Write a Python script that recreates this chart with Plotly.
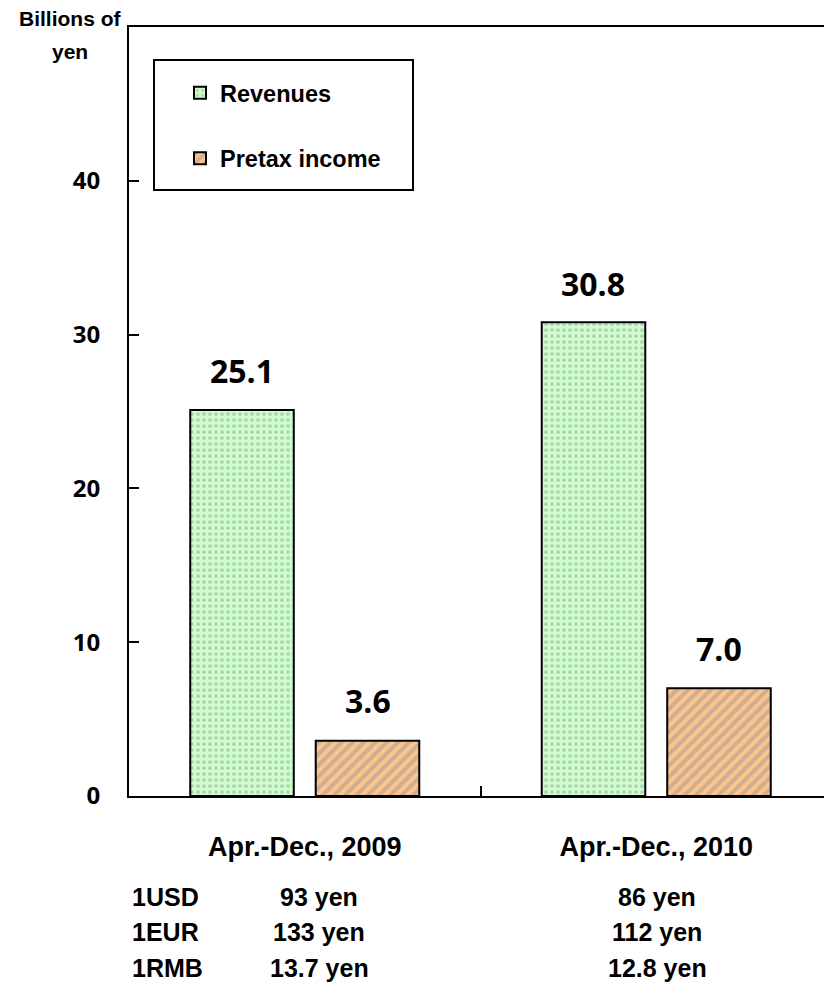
import plotly.graph_objects as go

categories = ["Apr.-Dec., 2009", "Apr.-Dec., 2010"]
revenues = [25.1, 30.8]
pretax = [3.6, 7.0]
y_ticks = [0, 10, 20, 30, 40]
fx_labels = ["1USD", "1EUR", "1RMB"]
fx_2009 = ["93 yen", "133 yen", "13.7 yen"]
fx_2010 = ["86 yen", "112 yen", "12.8 yen"]

NARROW = "Liberation Sans Narrow, Arial Narrow, Liberation Sans, Arial, sans-serif"
NUMF = "Open Sans, DejaVu Sans, sans-serif"

# page offset (browser body margin)
PX, PY = 8, 8
W, H = 832 - PX, 989 - PY
L, T = 129 - PX, 27 - PY
B = H - (796 - PY)
PW = W - L
PH = H - T - B

def px_x(x):
    return (x - PX - L) / PW

def px_y(y):
    return (H - B - (y - PY)) / PH

fig = go.Figure()
fig.add_trace(go.Bar(
    name="Revenues", x=categories, y=revenues, legendgroup="a",
    marker=dict(color="#ccffcc", line=dict(color="black", width=2),
                pattern=dict(shape=".", fgcolor="#999999", bgcolor="#ccffcc",
                             size=6, solidity=0.3, fillmode="overlay")),
))
fig.add_trace(go.Bar(
    name="Pretax income", x=categories, y=pretax, legendgroup="b",
    marker=dict(color="#ffc48c", line=dict(color="black", width=2),
                pattern=dict(shape="/", fgcolor="#9a9a9a", bgcolor="#ffc48c",
                             size=8, solidity=0.5, fillmode="overlay")),
))

# data labels
off = 0.179
for i, v in enumerate(revenues):
    fig.add_annotation(x=i - off, y=v, text=f"{v:.1f}", showarrow=False,
                       yshift=39, font=dict(family=NUMF, size=32, color="black", weight="bold"))
for i, v in enumerate(pretax):
    fig.add_annotation(x=i + off, y=v, text=f"{v:.1f}", showarrow=False,
                       yshift=40, font=dict(family=NUMF, size=32, color="black", weight="bold"))

# y-axis title
for txt, yy in (("Billions of", 19), ("yen", 51)):
    fig.add_annotation(xref="paper", yref="paper", x=px_x(70), y=px_y(yy),
                       xanchor="center", yanchor="middle", text=txt, showarrow=False,
                       font=dict(family=NARROW, size=21, color="black", weight="bold"))

# legend frame
fig.add_shape(type="rect", xref="paper", yref="paper",
              x0=px_x(154), x1=px_x(413), y0=px_y(190), y1=px_y(60),
              line=dict(color="black", width=2), fillcolor="white", layer="below")
# thin grey right edge of the plot frame
fig.add_shape(type="line", xref="paper", yref="paper", x0=0.999, x1=0.999, y0=0, y1=1,
              line=dict(color="#b0b0b0", width=1))

# exchange-rate table
row_y = [897, 932, 968]
for k, (lab, a, b) in enumerate(zip(fx_labels, fx_2009, fx_2010)):
    yp = px_y(row_y[k])
    fig.add_annotation(xref="paper", yref="paper", x=px_x(130), y=yp, xanchor="left", yanchor="middle",
                       text=lab, showarrow=False,
                       font=dict(family=NARROW, size=25, color="black", weight="bold"))
    fig.add_annotation(xref="paper", yref="paper", x=px_x(319), y=yp, xanchor="center", yanchor="middle",
                       text=a, showarrow=False,
                       font=dict(family=NARROW, size=25, color="black", weight="bold"))
    fig.add_annotation(xref="paper", yref="paper", x=px_x(657), y=yp, xanchor="center", yanchor="middle",
                       text=b, showarrow=False,
                       font=dict(family=NARROW, size=25, color="black", weight="bold"))

fig.update_layout(
    width=W, height=H,
    margin=dict(l=L, r=0, t=T, b=B),
    paper_bgcolor="white", plot_bgcolor="white",
    barmode="group", bargap=0.286, bargroupgap=0.175,
    showlegend=True,
    legend=dict(x=px_x(180), y=px_y(71), xanchor="left", yanchor="top",
                borderwidth=0, bgcolor="rgba(0,0,0,0)",
                font=dict(family=NARROW, size=23.5, color="black", weight="bold"),
                tracegroupgap=32, traceorder="grouped", itemwidth=30),
    xaxis=dict(range=[-0.5, 1.5], showline=True, linecolor="black", linewidth=2, mirror=True,
               ticks="inside", tickson="boundaries", ticklen=10, tickwidth=2, tickcolor="black",
               tickfont=dict(family=NARROW, size=27, color="black", weight="bold"),
               ticklabelstandoff=26, showgrid=False),
    yaxis=dict(range=[0, 50], showline=True, linecolor="black", linewidth=2,
               ticks="inside", ticklen=10, tickwidth=2, tickcolor="black",
               tickvals=y_ticks, ticktext=[str(t) for t in y_ticks],
               tickfont=dict(family=NUMF, size=24, color="black", weight="bold"),
               ticklabelstandoff=22, showgrid=False, zeroline=False),
)

fig.write_html("out.html")
